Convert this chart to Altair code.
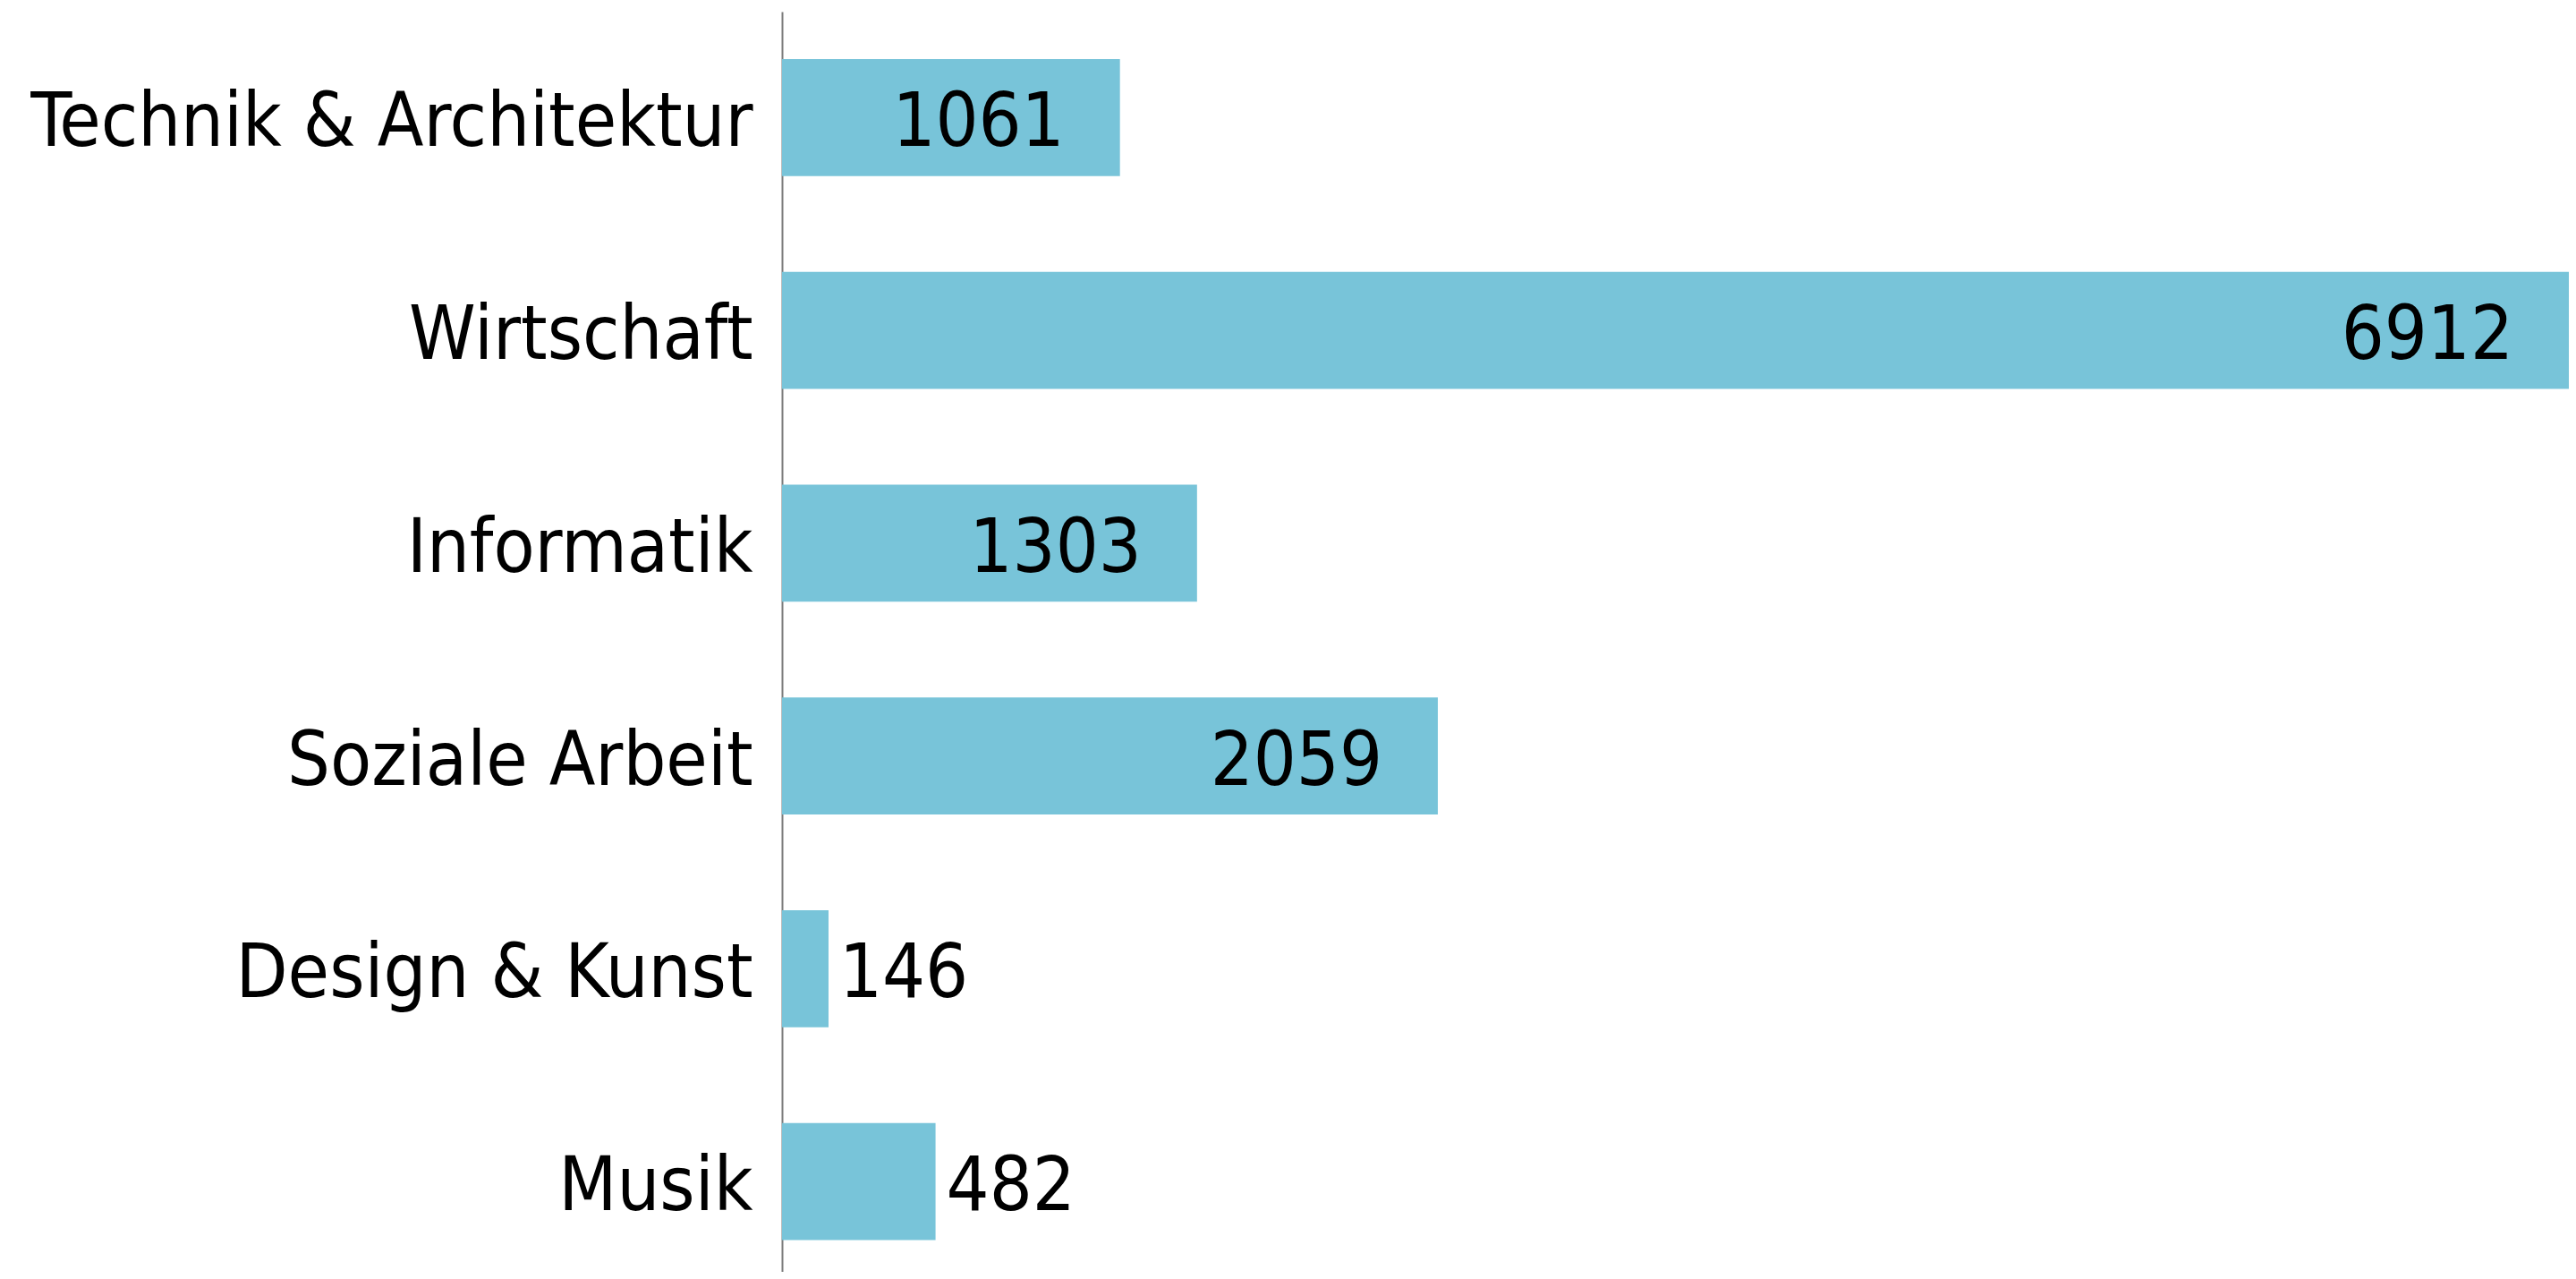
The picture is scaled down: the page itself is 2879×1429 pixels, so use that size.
import altair as alt
import pandas as pd

categories = ["Technik & Architektur", "Wirtschaft", "Informatik", "Soziale Arbeit", "Design & Kunst", "Musik"]
values = [1061, 6912, 1303, 2059, 146, 482]

df = pd.DataFrame({"cat": categories, "v": values})

FONT = "DejaVu Sans Condensed, DejaVu Sans, sans-serif"
FS = 84
BAR = "#78C4D9"

xscale = alt.Scale(domain=[0, 5610], clamp=True, nice=False, zero=True)
yscale = alt.Scale(paddingInner=0.45, paddingOuter=0.186, align=0.6)

base = alt.Chart(df).encode(
    y=alt.Y("cat:N", sort=categories, scale=yscale,
            axis=alt.Axis(title=None, ticks=False, labelPadding=33, labelFontSize=FS,
                          labelFont=FONT, labelColor="black", labelLimit=0, labelOffset=7,
                          domainColor="#7a7a7a", domainWidth=2, grid=False)),
)

bars = base.mark_bar(color=BAR).encode(
    x=alt.X("v:Q", scale=xscale, axis=None),
)

inside = base.transform_filter("datum.v >= 1000").mark_text(
    align="right", baseline="middle", dx=-62, dy=7, fontSize=FS, font=FONT, color="black"
).encode(x=alt.X("v:Q", scale=xscale, axis=None), text="v:Q")

outside = base.transform_filter("datum.v < 1000").mark_text(
    align="left", baseline="middle", dx=12, dy=7, fontSize=FS, font=FONT, color="black"
).encode(x=alt.X("v:Q", scale=xscale, axis=None), text="v:Q")

chart = alt.layer(bars, inside, outside).properties(
    width=1997, height=1408,
    background="white",
    autosize=alt.AutoSizeParams(type="none"),
    padding={"left": 866, "top": 5, "right": 0, "bottom": 0},
).configure_view(
    strokeWidth=0, stroke="transparent"
).configure_axis(
    grid=False
)

chart.save("out.html", embed_options={"renderer": "svg", "actions": False})
